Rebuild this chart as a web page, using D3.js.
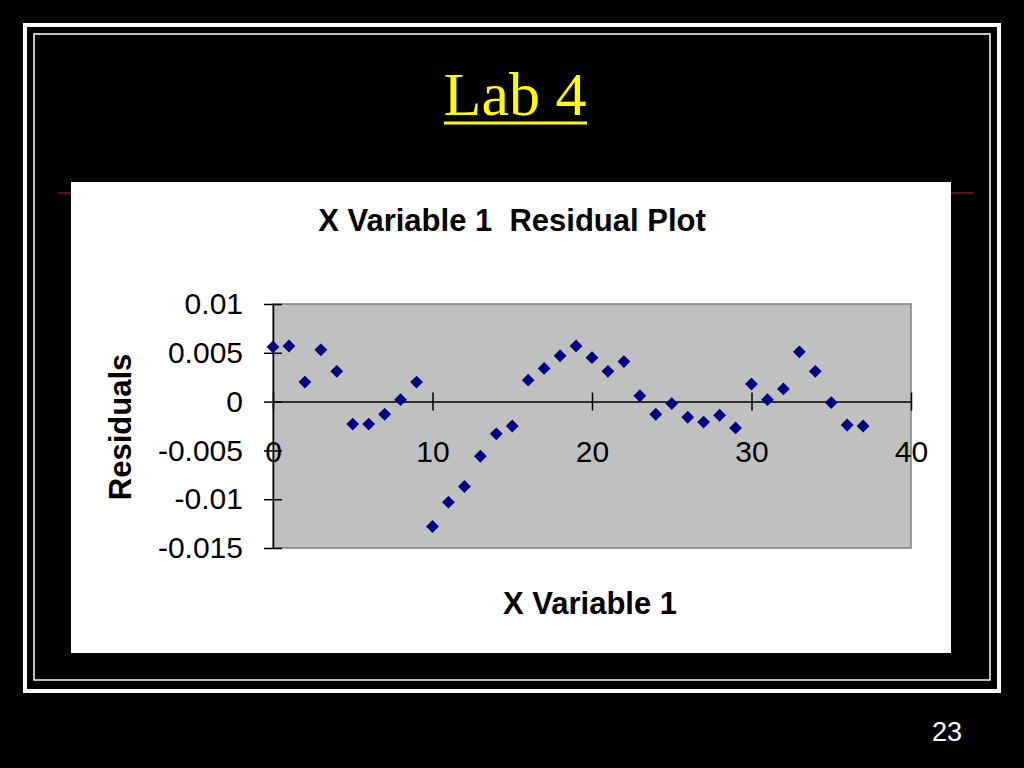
<!DOCTYPE html>
<html>
<head>
<meta charset="utf-8">
<script src="https://cdn.jsdelivr.net/npm/d3@7"></script>
<style>
  html, body { margin: 0; padding: 0; background: #000; }
  svg { display: block; }
</style>
</head>
<body>
<svg id="chart" width="1024" height="768"></svg>
<script>
// ---- data ----
const xValues = [0,1,2,3,4,5,6,7,8,9,10,11,12,13,14,15,16,17,18,19,20,21,22,23,24,25,26,27,28,29,30,31,32,33,34,35,36,37];
const residuals = [0.0056,0.0057,0.0020,0.0053,0.0031,-0.0023,-0.0023,-0.0013,0.0002,0.0020,
                   -0.0128,-0.0103,-0.0087,-0.0056,-0.0033,-0.0025,0.0022,0.0034,0.0047,0.0057,
                   0.0045,0.0031,0.0041,0.0006,-0.0013,-0.0002,-0.0016,-0.0021,-0.0014,-0.0027,
                   0.0018,0.0002,0.0013,0.0051,0.0031,-0.0001,-0.0024,-0.0025];
const xTicks = [0,10,20,30,40];
const yTicks = [0.01,0.005,0,-0.005,-0.01,-0.015];
const yTickLabels = ["0.01","0.005","0","-0.005","-0.01","-0.015"];
const slideTitle = "Lab 4";
const chartTitle = "X Variable 1  Residual Plot";
const xTitle = "X Variable 1";
const yTitle = "Residuals";
const slideNumber = "23";

const svg = d3.select("#chart");

// slide background
svg.append("rect").attr("x",0).attr("y",0).attr("width",1024).attr("height",768).attr("fill","#000");

// double frame
svg.append("rect").attr("x",25).attr("y",25).attr("width",974).attr("height",666)
  .attr("fill","none").attr("stroke","#fff").attr("stroke-width",4);
svg.append("rect").attr("x",34).attr("y",34).attr("width",956).attr("height",646)
  .attr("fill","none").attr("stroke","#fff").attr("stroke-width",1.5);

// slide title
svg.append("text").attr("x",515).attr("y",115).attr("text-anchor","middle")
  .attr("font-family","'Liberation Serif','Times New Roman',serif").attr("font-size",62)
  .attr("fill","#ffff00").text(slideTitle);
svg.append("line").attr("x1",444).attr("x2",587).attr("y1",123).attr("y2",123)
  .attr("stroke","#ffff00").attr("stroke-width",3);

// thin red rule
svg.append("line").attr("x1",58).attr("x2",973).attr("y1",193).attr("y2",193)
  .attr("stroke","#7a1818").attr("stroke-width",1.5);

// chart area
svg.append("rect").attr("x",71).attr("y",182).attr("width",880).attr("height",471).attr("fill","#fff");

const plot = {left:273, right:911, top:304, bottom:548};
const x = d3.scaleLinear().domain([0,40]).range([plot.left, plot.right]);
const y = d3.scaleLinear().domain([-0.015,0.01]).range([plot.bottom, plot.top]);

svg.append("rect").attr("x",plot.left).attr("y",plot.top)
  .attr("width",plot.right-plot.left).attr("height",plot.bottom-plot.top)
  .attr("fill","#c0c0c0").attr("stroke","#808080").attr("stroke-width",1.5);

const font = "'Liberation Sans',Arial,Helvetica,sans-serif";

// y axis
const yAxis = d3.axisLeft(y).tickValues(yTicks).tickSizeInner(9).tickSizeOuter(0)
  .tickFormat((d,i)=>yTickLabels[i]).tickPadding(21);
const gy = svg.append("g").attr("transform",`translate(${plot.left},0)`).call(yAxis);
gy.select(".domain").attr("stroke","#000").attr("stroke-width",1.5);
gy.selectAll(".tick line").attr("x1",-9).attr("x2",9).attr("stroke","#000").attr("stroke-width",1.5);
gy.selectAll(".tick text").attr("font-family",font).attr("font-size",30).attr("fill","#000");

// x axis at y = 0
const xAxis = d3.axisBottom(x).tickValues(xTicks).tickSizeInner(9).tickSizeOuter(0)
  .tickFormat(d3.format("d")).tickPadding(0);
const gx = svg.append("g").attr("transform",`translate(0,${y(0)})`).call(xAxis);
gx.select(".domain").attr("stroke","#000").attr("stroke-width",1.5);
gx.selectAll(".tick line").attr("y1",-9).attr("y2",9).attr("stroke","#000").attr("stroke-width",1.5);
gx.selectAll(".tick text").attr("font-family",font).attr("font-size",30).attr("fill","#000")
  .attr("dy",null).attr("y",60);

// points
const diamond = d3.symbol().type(d3.symbolDiamond2).size(105);
svg.append("g").selectAll("path").data(xValues).join("path")
  .attr("transform",(d,i)=>`translate(${x(d)},${y(residuals[i])})`)
  .attr("d",diamond).attr("fill","#000080");

// chart texts
svg.append("text").attr("x",512).attr("y",231).attr("text-anchor","middle")
  .style("white-space","pre").attr("xml:space","preserve")
  .attr("font-family",font).attr("font-weight","bold").attr("font-size",31).attr("fill","#000").text(chartTitle);
svg.append("text").attr("x",590).attr("y",614).attr("text-anchor","middle")
  .attr("font-family",font).attr("font-weight","bold").attr("font-size",31).attr("fill","#000").text(xTitle);
svg.append("text").attr("transform","translate(131,427) rotate(-90)").attr("text-anchor","middle")
  .attr("font-family",font).attr("font-weight","bold").attr("font-size",31).attr("fill","#000").text(yTitle);

// slide number
svg.append("text").attr("x",947).attr("y",741).attr("text-anchor","middle")
  .attr("font-family",font).attr("font-size",27).attr("fill","#fff").text(slideNumber);
</script>
</body>
</html>
